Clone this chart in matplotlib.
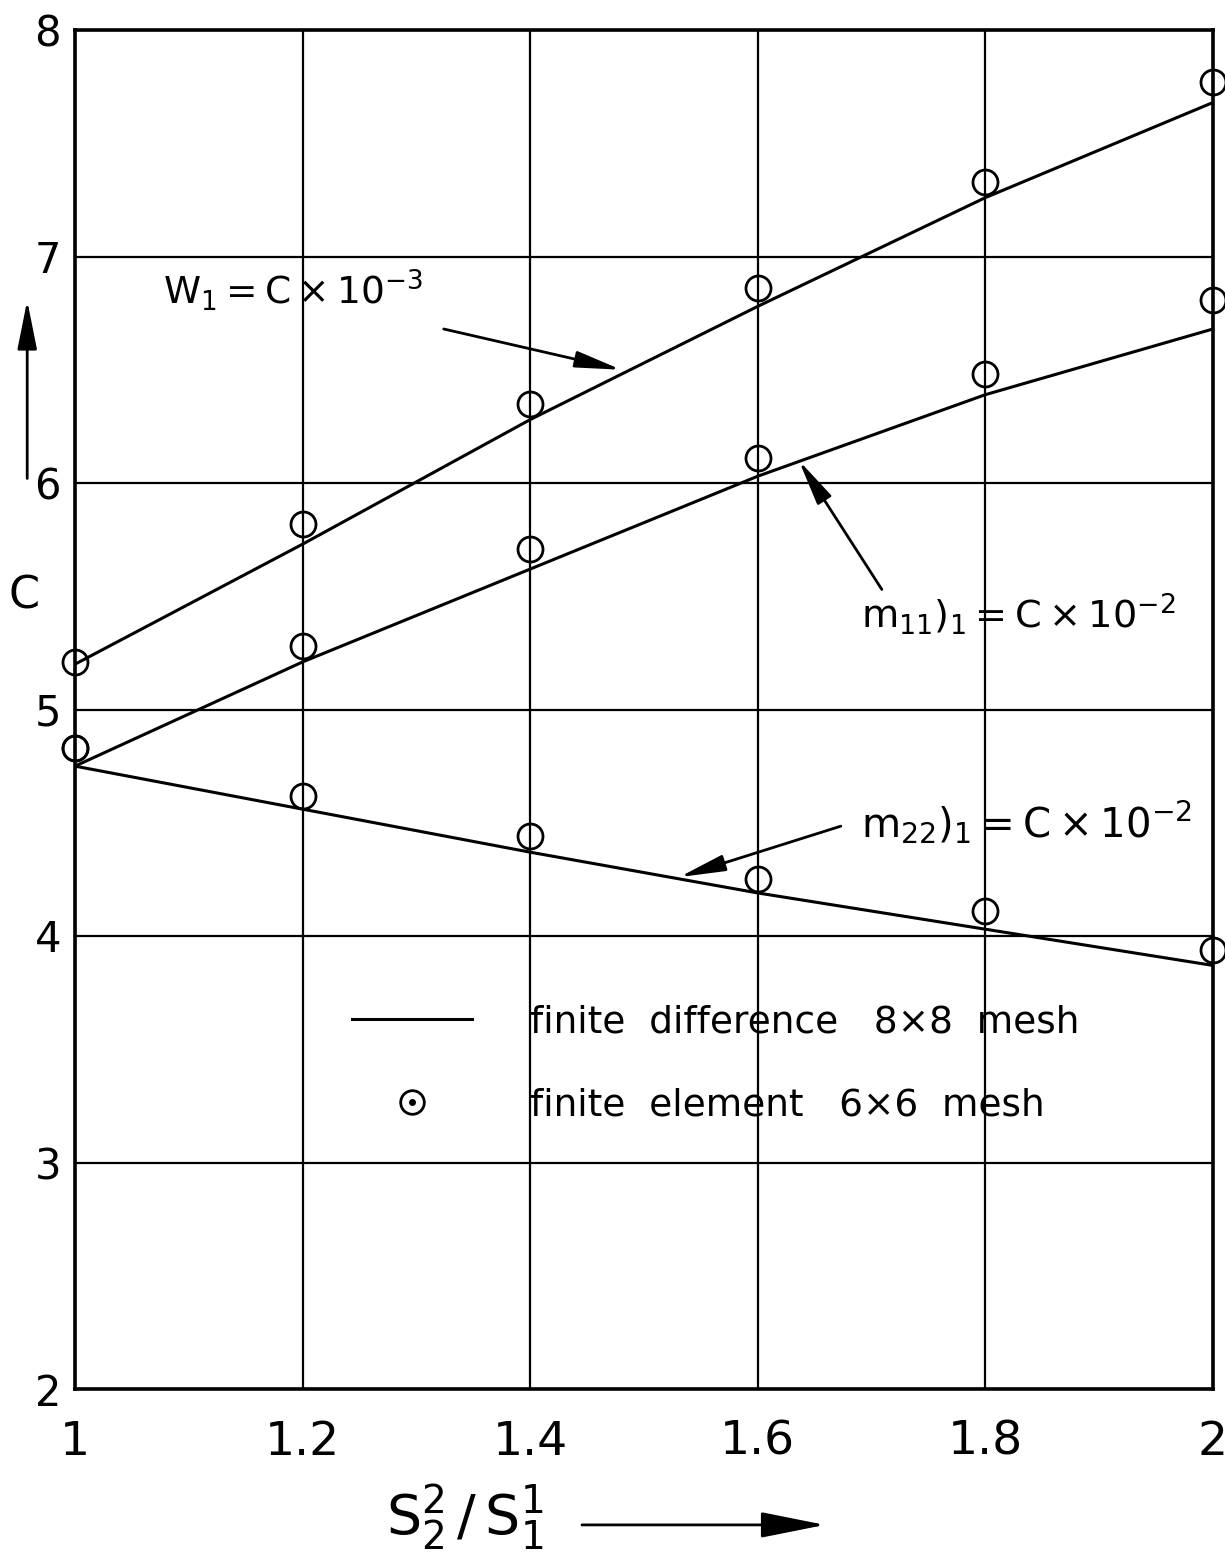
import matplotlib
matplotlib.use("Agg")
import matplotlib.pyplot as plt
from matplotlib.lines import Line2D
from matplotlib.legend_handler import HandlerTuple

plt.rcParams['font.family'] = ['DejaVu Sans']
plt.rcParams['mathtext.default'] = 'regular'

# ---- data ----
x = [1.0, 1.2, 1.4, 1.6, 1.8, 2.0]
w1_fd = [5.20, 5.73, 6.28, 6.78, 7.26, 7.68]
w1_fe = [5.21, 5.82, 6.35, 6.86, 7.33, 7.77]
m11_fd = [4.75, 5.21, 5.62, 6.03, 6.39, 6.68]
m11_fe = [4.83, 5.28, 5.71, 6.11, 6.48, 6.81]
m22_fd = [4.75, 4.56, 4.37, 4.19, 4.03, 3.87]
m22_fe = [4.83, 4.62, 4.44, 4.25, 4.11, 3.94]

x_ticks = [1.0, 1.2, 1.4, 1.6, 1.8, 2.0]
x_tick_labels = ["1", "1.2", "1.4", "1.6", "1.8", "2"]
y_ticks = [2, 3, 4, 5, 6, 7, 8]
y_tick_labels = ["2", "3", "4", "5", "6", "7", "8"]

label_fd = "finite  difference   8×8  mesh"
label_fe = "finite  element   6×6  mesh"

fig = plt.figure(figsize=(12.25, 15.53), dpi=100)
ax = fig.add_axes([75/1225, 1 - 1389/1553, 1138/1225, 1359/1553])

line_kw = dict(color='black', lw=2.2, solid_capstyle='butt')
mk_kw = dict(ls='none', marker='o', ms=18, mfc='none', mec='black', mew=2.0, clip_on=False, zorder=4)

for fd, fe in [(w1_fd, w1_fe), (m11_fd, m11_fe), (m22_fd, m22_fe)]:
    ax.plot(x, fd, **line_kw)
    ax.plot(x, fe, **mk_kw)

ax.set_xlim(1, 2)
ax.set_ylim(2, 8)
ax.set_xticks(x_ticks)
ax.set_xticklabels(x_tick_labels, fontsize=34)
ax.set_yticks(y_ticks)
ax.set_yticklabels(y_tick_labels, fontsize=30)
ax.tick_params(axis='both', length=0)
ax.tick_params(axis='x', pad=22)
ax.tick_params(axis='y', pad=10)
ax.grid(True, color='black', lw=1.6)
ax.set_axisbelow(True)
for sp in ax.spines.values():
    sp.set_linewidth(2.6)
    sp.set_color('black')

# y label with arrow
ax.set_ylabel("C", rotation=0, fontsize=32, va='center', ha='center')
ax.yaxis.set_label_coords(-0.045, 0.5835)
ax.annotate('', xy=(-0.042, 0.801), xytext=(-0.042, 0.670), xycoords='axes fraction',
            annotation_clip=False,
            arrowprops=dict(arrowstyle='-|>,head_length=1.5,head_width=0.3', lw=2,
                            color='black', mutation_scale=20, shrinkA=0, shrinkB=0))

# x label with arrow
ax.text(0.343, -0.094, r'$S_2^2\,/\,S_1^1$', transform=ax.transAxes, fontsize=40,
        ha='center', va='center')
ax.annotate('', xy=(0.659, -0.100), xytext=(0.4455, -0.100), xycoords='axes fraction',
            annotation_clip=False,
            arrowprops=dict(arrowstyle='-|>,head_length=2.0,head_width=0.4', lw=2,
                            color='black', mutation_scale=20, shrinkA=0, shrinkB=0))

# curve annotations
arrow_kw = dict(arrowstyle='-|>,head_length=1.4,head_width=0.25', lw=2, color='black',
                mutation_scale=20, shrinkA=0, shrinkB=0)
ax.text(1.077, 6.85, r'$W_1 = C\times10^{-3}$', fontsize=27, ha='left', va='center')
ax.annotate('', xy=(1.48, 6.50), xytext=(1.324, 6.68), arrowprops=arrow_kw)

ax.text(1.691, 5.42, r'$m_{11})_1 = C\times10^{-2}$', fontsize=27.5, ha='left', va='center')
ax.annotate('', xy=(1.636, 6.10), xytext=(1.709, 5.53), arrowprops=arrow_kw)

ax.text(1.691, 4.50, r'$m_{22})_1 = C\times10^{-2}$', fontsize=29, ha='left', va='center')
ax.annotate('', xy=(1.531, 4.26), xytext=(1.673, 4.485), arrowprops=arrow_kw)

# legend
h_line = Line2D([], [], color='black', lw=2.2)
h_circ = Line2D([], [], ls='none', marker='o', ms=17, mfc='none', mec='black', mew=2.0)
h_dot = Line2D([], [], ls='none', marker='o', ms=4, mfc='black', mec='black')
leg = ax.legend(handles=[h_line, (h_circ, h_dot)], labels=[label_fd, label_fe],
                handler_map={tuple: HandlerTuple(ndivide=1, pad=0)},
                loc='upper left', bbox_to_anchor=(0.243, 0.283), frameon=False,
                fontsize=27, handlelength=3.2, handletextpad=1.55, labelspacing=1.25,
                borderpad=0, borderaxespad=0)

fig.savefig("out.png", dpi=100)
